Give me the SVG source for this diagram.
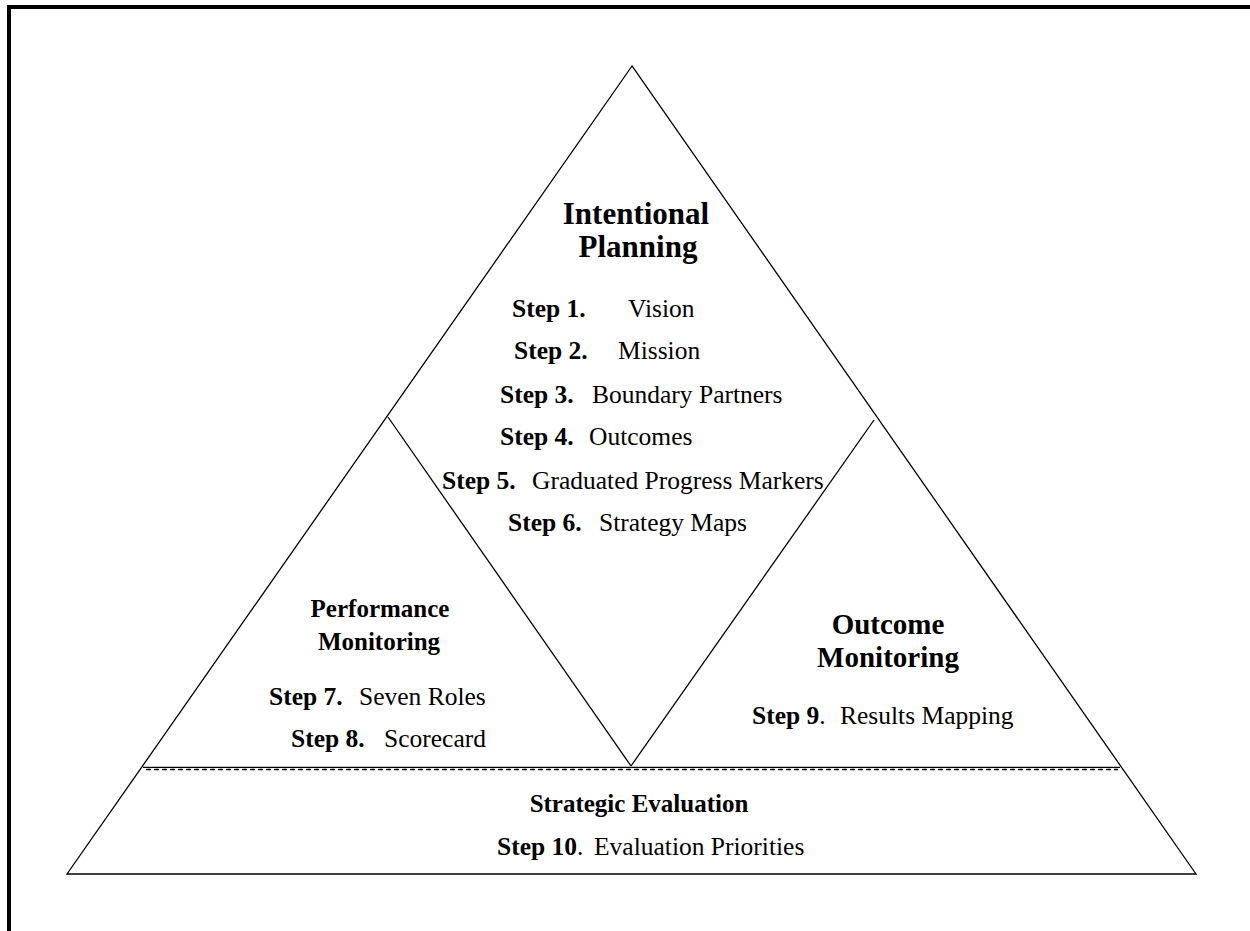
<svg xmlns="http://www.w3.org/2000/svg" width="1250" height="931" viewBox="0 0 1250 931">
<style>
.ln{fill:none;stroke:#000;stroke-width:1.3}
.dash{fill:none;stroke:#000;stroke-width:1.5;stroke-dasharray:5,3}
.t{font-family:"Liberation Serif","Times New Roman",serif;fill:#000}
.hi{font-size:31px;font-weight:bold;text-anchor:middle}
.ho{font-size:29px;font-weight:bold;text-anchor:middle}
.hp{font-size:25px;font-weight:bold;text-anchor:middle}
.s{font-size:25.5px}
.b{font-weight:bold}
</style>
<rect width="1250" height="931" fill="#fff"/>
<path d="M9,931 V7 H1250" fill="none" stroke="#000" stroke-width="4"/>
<g id="connectors">
<path class="ln" d="M632,66 L67,874 L1196,874 Z"/>
<path class="ln" d="M388,417 L631,766"/>
<path class="ln" d="M631,766 L874,420"/>
<path class="ln" d="M143,767.3 H1120" stroke="#444"/>
<path class="dash" d="M146,769.5 H1118"/>
</g>
<g id="intentional-planning" class="t">
<text class="hi" x="636" y="224">Intentional</text>
<text class="hi" x="638" y="257">Planning</text>
<text class="s" y="317"><tspan class="b" x="512">Step 1.</tspan><tspan x="628">Vision</tspan></text>
<text class="s" y="359"><tspan class="b" x="514">Step 2.</tspan><tspan x="618">Mission</tspan></text>
<text class="s" y="403"><tspan class="b" x="500">Step 3.</tspan><tspan x="592">Boundary Partners</tspan></text>
<text class="s" y="445"><tspan class="b" x="500">Step 4.</tspan><tspan x="589">Outcomes</tspan></text>
<text class="s" y="489"><tspan class="b" x="442">Step 5.</tspan><tspan x="532">Graduated Progress Markers</tspan></text>
<text class="s" y="531"><tspan class="b" x="508">Step 6.</tspan><tspan x="599">Strategy Maps</tspan></text>
</g>
<g id="performance-monitoring" class="t">
<text class="hp" x="380" y="617">Performance</text>
<text class="hp" x="379" y="650">Monitoring</text>
<text class="s" y="705"><tspan class="b" x="269">Step 7.</tspan><tspan x="359">Seven Roles</tspan></text>
<text class="s" y="747"><tspan class="b" x="291">Step 8.</tspan><tspan x="384">Scorecard</tspan></text>
</g>
<g id="outcome-monitoring" class="t">
<text class="ho" x="888" y="634">Outcome</text>
<text class="ho" x="888" y="667">Monitoring</text>
<text class="s" y="724"><tspan class="b" x="752">Step 9</tspan><tspan>.</tspan><tspan x="840">Results Mapping</tspan></text>
</g>
<g id="strategic-evaluation" class="t">
<text class="hp" x="639" y="812">Strategic Evaluation</text>
<text class="s" y="855"><tspan class="b" x="497">Step 10</tspan><tspan>.</tspan><tspan x="594">Evaluation Priorities</tspan></text>
</g>
</svg>
